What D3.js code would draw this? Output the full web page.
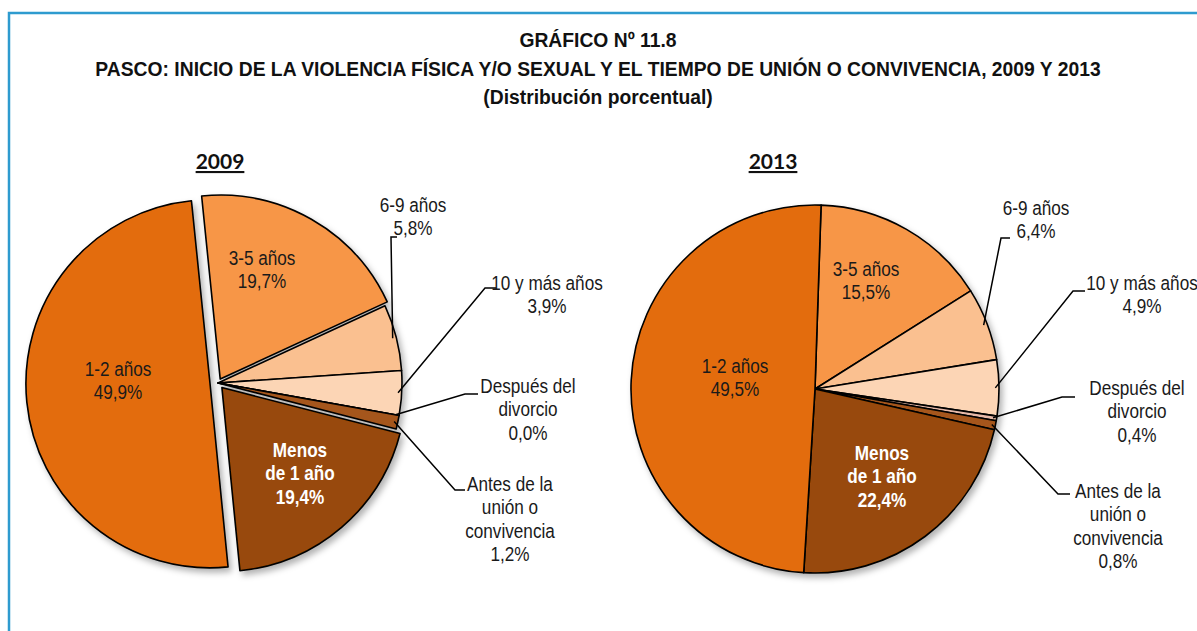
<!DOCTYPE html>
<html>
<head>
<meta charset="utf-8">
<script src="https://cdn.jsdelivr.net/npm/d3@7"></script>
<style>
  body { margin: 0; background: #fff; }
  text { font-family: "Liberation Sans Narrow", "Arial Narrow", "Liberation Sans", Arial, sans-serif; }
</style>
</head>
<body>
<div id="chart"></div>
<script>
// chart data
var categories = ["3-5 años", "6-9 años", "10 y más años", "Después del divorcio",
                  "Antes de la unión o convivencia", "Menos de 1 año", "1-2 años"];
var labelLines = [["3-5 años"], ["6-9 años"], ["10 y más años"], ["Después del", "divorcio"],
                  ["Antes de la", "unión o", "convivencia"], ["Menos", "de 1 año"], ["1-2 años"]];
var years = ["2009", "2013"];
var values2009 = [19.7, 5.8, 3.9, 0.0, 1.2, 19.4, 49.9];
var values2013 = [15.5, 6.4, 4.9, 0.4, 0.8, 22.4, 49.5];
var sliceColors = ["#F79646", "#FAC090", "#FCD5B5", "#E6B9A8", "#A5561B", "#984807", "#E36C0A"];

var W = 1197, H = 631, R = 184, lineStep = 23.5;
var squeeze = 0.88;   // no narrow font installed, so squeeze the regular one

// layout of each pie: centre, start angle, exploded slices, label boxes
var charts = [
  { year: years[0], values: values2009, cx: 218, cy: 383, start: -5.8, yearX: 220,
    explode: [4.5, 0, 0, 0, 0, 6, 8],
    labels: [
      {x: 262, y: 265}, {x: 413, y: 212, lead: [[391, 237], [397, 237]]},
      {x: 547, y: 290, lead: [[485, 288], [496, 288]]},
      {x: 528, y: 393, lead: [[465, 394], [478, 394]]},
      {x: 510, y: 491, lead: [[455, 490], [465, 490]]},
      {x: 300, y: 457, bold: true}, {x: 118, y: 376}
    ] },
  { year: years[1], values: values2013, cx: 815, cy: 389, start: 1.9, yearX: 773,
    explode: [0, 0, 0, 0, 0, 0, 0],
    labels: [
      {x: 866, y: 276}, {x: 1036, y: 215, lead: [[1001, 238], [1010, 238]]},
      {x: 1142, y: 290, lead: [[1073, 291], [1085, 291]]},
      {x: 1137, y: 395, lead: [[1062, 397], [1075, 397]]},
      {x: 1118, y: 498, lead: [[1058, 494], [1070, 494]]},
      {x: 882, y: 460, bold: true}, {x: 735, y: 373}
    ] }
];

var svg = d3.select("#chart").append("svg")
    .attr("width", W)
    .attr("height", H);

var defs = svg.append("defs");
defs.append("filter")
    .attr("id", "shadow")
    .attr("x", "-10%").attr("y", "-10%").attr("width", "130%").attr("height", "130%")
  .append("feDropShadow")
    .attr("dx", 3).attr("dy", 4)
    .attr("stdDeviation", 3)
    .attr("flood-color", "#000")
    .attr("flood-opacity", 0.3);

// frame
svg.append("rect")
    .attr("x", 9).attr("y", 13)
    .attr("width", W + 20).attr("height", H + 20)
    .attr("fill", "none")
    .attr("stroke", "#2E9BCF")
    .attr("stroke-width", 2.5);

// titles
var titles = ["GRÁFICO Nº 11.8",
  "PASCO: INICIO DE LA VIOLENCIA FÍSICA Y/O SEXUAL Y EL TIEMPO DE UNIÓN O CONVIVENCIA, 2009 Y 2013",
  "(Distribución porcentual)"];
svg.selectAll("text.title")
  .data(titles)
  .enter().append("text")
    .attr("class", "title")
    .attr("transform", function(d, i) {
      return "translate(598," + (47 + i * 28.5) + ") scale(0.92,1)";
    })
    .attr("text-anchor", "middle")
    .style("font-size", "21px")
    .style("font-weight", "bold")
    .attr("fill", "#111")
    .text(function(d) { return d; });

var fmt = function(v) { return d3.format(".1f")(v).replace(".", ",") + "%"; };
var toRad = Math.PI / 180;

charts.forEach(function(c) {
  var pie = d3.pie().sort(null)
      .startAngle(c.start * toRad)
      .endAngle(c.start * toRad + 2 * Math.PI);
  var arcs = pie(c.values);
  var arc = d3.arc().innerRadius(0).outerRadius(R);
  var edgeArc = d3.arc().innerRadius(R * 0.98).outerRadius(R * 0.98);

  svg.append("text")
      .attr("x", c.yearX)
      .attr("y", 169)
      .attr("text-anchor", "middle")
      .style("font-family", "Lato, 'Open Sans', sans-serif")
      .style("font-size", "21px")
      .style("font-weight", "bold")
      .style("text-decoration", "underline")
      .attr("fill", "#111")
      .text(c.year);

  var g = svg.append("g")
      .attr("transform", "translate(" + c.cx + "," + c.cy + ")")
      .attr("filter", "url(#shadow)");

  g.selectAll("path")
    .data(arcs)
    .enter().append("path")
      .attr("d", arc)
      .attr("transform", function(d, i) {
        var mid = (d.startAngle + d.endAngle) / 2, off = c.explode[i];
        return "translate(" + (off * Math.sin(mid)) + "," + (-off * Math.cos(mid)) + ")";
      })
      .attr("fill", function(d, i) { return sliceColors[i]; })
      .attr("stroke", "#000")
      .attr("stroke-width", 1.6)
      .attr("stroke-linejoin", "round");

  // leader lines
  arcs.forEach(function(d, i) {
    var lab = c.labels[i];
    if (!lab.lead) return;
    var p = edgeArc.centroid(d);
    var pts = [[c.cx + p[0], c.cy + p[1]]].concat(lab.lead);
    svg.append("path")
        .attr("d", d3.line()(pts))
        .attr("fill", "none")
        .attr("stroke", "#000")
        .attr("stroke-width", 1.5);
  });

  // labels
  arcs.forEach(function(d, i) {
    var lab = c.labels[i];
    var lines = labelLines[i].concat([fmt(c.values[i])]);
    var t = svg.append("text")
        .attr("transform", "translate(" + lab.x + "," + lab.y + ") scale(" + squeeze + ",1)")
        .attr("text-anchor", "middle")
        .style("font-size", "19.5px")
        .style("font-weight", lab.bold ? "bold" : "normal")
        .attr("fill", lab.bold ? "#fff" : "#1a1a1a");
    lines.forEach(function(s, k) {
      t.append("tspan")
          .attr("x", 0)
          .attr("y", k * lineStep)
          .text(s);
    });
  });
});
</script>
</body>
</html>
